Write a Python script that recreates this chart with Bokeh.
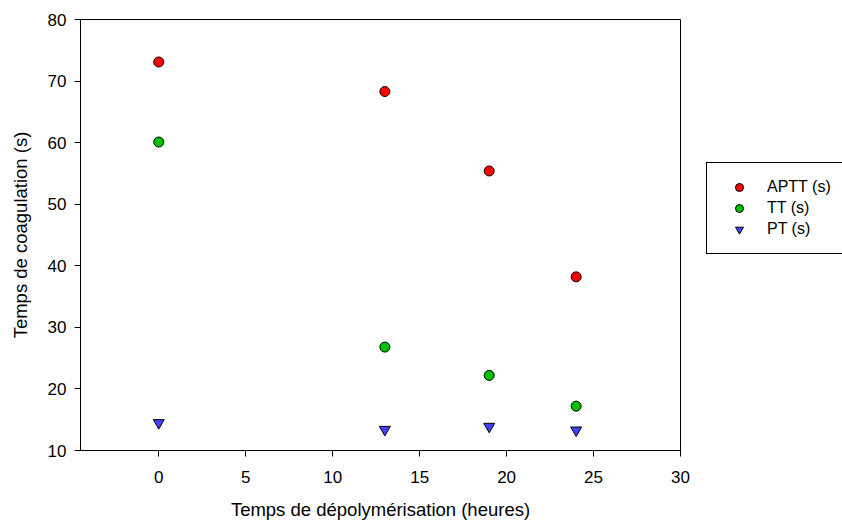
from bokeh.plotting import figure
from bokeh.models import FixedTicker, Range1d, Legend, LegendItem
from bokeh.embed import file_html
from bokeh.resources import INLINE

# Data
hours = [0, 13, 19, 24]
aptt = [73.1, 68.3, 55.4, 38.2]
tt = [60.1, 26.8, 22.2, 17.2]
pt = [14.5, 13.4, 13.9, 13.3]

x_ticks = [0, 5, 10, 15, 20, 25, 30]
y_ticks = [10, 20, 30, 40, 50, 60, 70, 80]

FONT = "Liberation Sans"

p = figure(width=842, height=524, output_backend="svg", toolbar_location=None,
           x_range=Range1d(-4.5, 30), y_range=Range1d(10, 80),
           frame_width=600, frame_height=431,
           min_border_left=80, min_border_top=19, min_border_right=162, min_border_bottom=74)

p.grid.visible = False
p.outline_line_color = "black"
p.outline_line_alpha = 1
p.outline_line_width = 1
p.background_fill_color = "white"
p.border_fill_color = "white"

for ax in (p.xaxis[0], p.yaxis[0]):
    ax.axis_line_color = "black"
    ax.major_tick_line_color = "black"
    ax.minor_tick_line_color = None
    ax.major_tick_in = 0
    ax.major_tick_out = 6
    ax.major_label_text_font = FONT
    ax.major_label_text_font_size = "17px"
    ax.major_label_text_color = "black"
    ax.axis_label_text_font = FONT
    ax.axis_label_text_font_size = "18.5px"
    ax.axis_label_text_font_style = "normal"
    ax.axis_label_text_color = "black"

p.xaxis.ticker = FixedTicker(ticks=x_ticks)
p.yaxis.ticker = FixedTicker(ticks=y_ticks)
p.xaxis.axis_label = "Temps de dépolymérisation (heures)"
p.yaxis.axis_label = "Temps de coagulation (s)"
p.xaxis.major_label_standoff = 14
p.xaxis.axis_label_standoff = 13
p.yaxis.major_label_standoff = 8
p.yaxis.axis_label_standoff = 14

r1 = p.scatter(hours, aptt, marker="circle", size=10, fill_color="#FF0000", line_color="black", line_width=1)
r2 = p.scatter(hours, tt, marker="circle", size=10, fill_color="#00C000", line_color="black", line_width=1)
r3 = p.scatter(hours, pt, marker="inverted_triangle", size=11, fill_color="#4040FF", line_color="black", line_width=1)

legend = Legend(items=[LegendItem(label="APTT (s)", renderers=[r1]),
                       LegendItem(label="TT (s)", renderers=[r2]),
                       LegendItem(label="PT (s)", renderers=[r3])],
                location=(26, 196))
legend.border_line_color = "black"
legend.border_line_alpha = 1
legend.border_line_width = 1
legend.background_fill_alpha = 1
legend.label_text_font = FONT
legend.label_text_font_size = "16px"
legend.label_text_color = "black"
legend.padding = 14
legend.spacing = 1
legend.glyph_width = 36
legend.label_standoff = 10
legend.margin = 0
p.add_layout(legend, "right")

open("out.html", "w").write(file_html(p, INLINE))
